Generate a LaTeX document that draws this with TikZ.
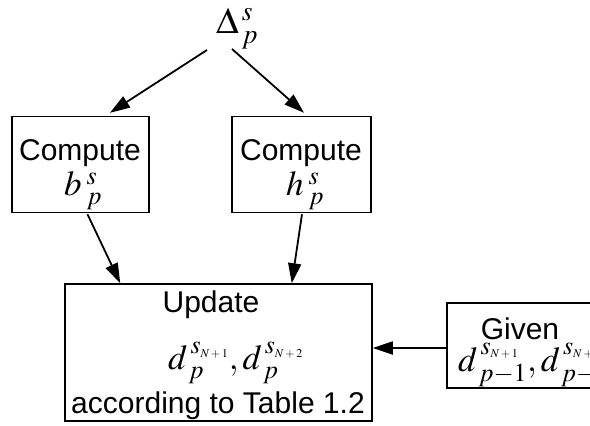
\documentclass[tikz,border=0pt]{standalone}
\usepackage{mathptmx}
\usepackage[no-math]{fontspec}
\setmainfont{Liberation Sans}
\usetikzlibrary{arrows.meta,calc}
\newcommand\tinyidx[1]{\mbox{\fontsize{12}{12}\selectfont$#1$}}
% base, sup, sub, kern, raise
\newcommand\sps[5]{#1^{\kern#4\raisebox{#5}{$\scriptstyle #2$}}_{\kern#4\raisebox{-1pt}{$\scriptstyle #3$}}}
\tikzset{
  box/.style={draw=black, line width=1.5pt, inner sep=0pt, anchor=center},
  lbl/.style={inner sep=0pt, anchor=base, font=\fontsize{30}{36}\selectfont},
  mth/.style={inner sep=0pt, anchor=base west, font=\fontsize{35}{40}\selectfont},
  arr/.style={line width=1.8pt, -{Triangle[length=20pt,width=13pt]}}
}
\begin{document}
\begin{tikzpicture}[x=1pt,y=-1pt]
\useasboundingbox (0,0) rectangle (590,426);
% boxes
\node[box, minimum width=137pt, minimum height=96pt] (b) at (80.5,164.5) {};
\node[box, minimum width=139pt, minimum height=96pt] (h) at (301.5,164.5) {};
\node[box, minimum width=307pt, minimum height=137pt] (upd) at (218.5,352.5) {};
\node[box, minimum width=147pt, minimum height=85pt] (giv) at (520.5,345.5) {};
% labels
\node[mth, font=\fontsize{37}{42}\selectfont] (delta) at (216,33) {$\sps{\Delta}{s}{p}{3pt}{-1pt}$};
\node[lbl] (bt) at (80,160) {Compute};
\node[mth] (bm) at (64,195) {$\sps{b}{s}{p}{5pt}{-2pt}$};
\node[lbl] (ht) at (301,160) {Compute};
\node[mth] (hm) at (286,195) {$\sps{h}{s}{p}{5pt}{-2pt}$};
\node[lbl] (ut) at (211,312) {Update};
\node[mth] (um) at (168,369) {$\sps{d}{s_{\tinyidx{N+1}}}{p}{3pt}{3pt},\sps{d}{s_{\tinyidx{N+2}}}{p}{3pt}{3pt}$};
\node[lbl] (ua) at (218,413) {according to Table 1.2};
\node[lbl] (gt) at (520,339) {Given};
\node[mth] (gm) at (458,371) {$\sps{d}{s_{\tinyidx{N+1}}}{p-1}{3pt}{1pt},\sps{d}{s_{\tinyidx{N+2}}}{p-1}{3pt}{1pt}$};
% connectors
\draw[arr] ($(delta.base west)+(-9,17)$) -- ($(b.north)+(29.5,-3)$);
\draw[arr] ($(delta.base west)+(16,16)$) -- ($(h.north)+(2.5,-3)$);
\draw[arr] ($(b.south)+(7,1)$) -- ($(upd.north west)+(56,0)$);
\draw[arr] ($(h.south)+(0.5,1)$) -- ($(upd.north east)+(-81,0)$);
\draw[arr] ($(giv.west)+(0,2.5)$) -- ($(giv.west -| upd.east)+(0,2.5)$);
\end{tikzpicture}
\end{document}
